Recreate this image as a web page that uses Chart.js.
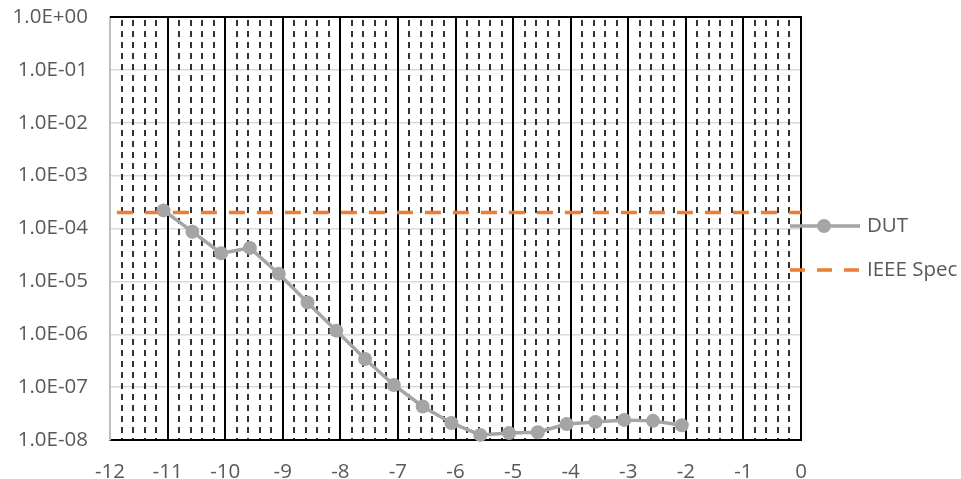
<!DOCTYPE html>
<html>
<head>
<meta charset="utf-8">
<script src="https://cdn.jsdelivr.net/npm/chart.js@4"></script>
<style>
  html, body { margin: 0; padding: 0; background: #ffffff; }
  #wrap { width: 961px; height: 479px; position: relative; }
</style>
</head>
<body>
<div id="wrap"><canvas id="c" width="961" height="479"></canvas></div>
<script>
// ---- data ----
const dutX = [-11.07, -10.57, -10.07, -9.57, -9.07, -8.57, -8.07, -7.57, -7.07, -6.57, -6.07, -5.57, -5.07, -4.57, -4.07, -3.57, -3.07, -2.57, -2.07];
const dutY = [2.2e-4, 8.7e-5, 3.4e-5, 4.3e-5, 1.4e-5, 4.0e-6, 1.17e-6, 3.4e-7, 1.1e-7, 4.3e-8, 2.1e-8, 1.25e-8, 1.35e-8, 1.4e-8, 2.0e-8, 2.2e-8, 2.4e-8, 2.3e-8, 1.9e-8];
const specX = [-11.88, 0];
const specY = [2.0e-4, 2.0e-4];
const seriesNames = ['DUT', 'IEEE Spec'];
const xTicks = [-12, -11, -10, -9, -8, -7, -6, -5, -4, -3, -2, -1, 0];
const yTicks = [1e-8, 1e-7, 1e-6, 1e-5, 1e-4, 1e-3, 1e-2, 1e-1, 1e0];

const FONT = '"Open Sans", Lato, sans-serif';
const TXT = '#595959';
const GRAY = '#a5a5a5';
const ORANGE = '#ed7d31';

function fmtExp(v) {
  const e = Math.round(Math.log10(v));
  const a = Math.abs(e);
  return '1.0E' + (e < 0 ? '-' : '+') + (a < 10 ? '0' + a : '' + a);
}

const gridPlugin = {
  id: 'customGrid',
  beforeDatasetsDraw(chart) {
    const { ctx, chartArea: ca, scales: { x } } = chart;
    ctx.save();
    // minor dashed lines every 0.2
    ctx.strokeStyle = '#000000';
    ctx.lineWidth = 1.6;
    ctx.setLineDash([6, 5]);
    ctx.lineDashOffset = 8;
    for (let i = 0; i < xTicks.length - 1; i++) {
      for (let k = 1; k < 5; k++) {
        const px = Math.round(x.getPixelForValue(xTicks[i] + k * 0.2));
        ctx.beginPath();
        ctx.moveTo(px, ca.top);
        ctx.lineTo(px, ca.bottom);
        ctx.stroke();
      }
    }
    // major solid lines
    ctx.setLineDash([]);
    ctx.lineWidth = 2;
    for (let i = 1; i < xTicks.length; i++) {
      const px = Math.round(x.getPixelForValue(xTicks[i]));
      ctx.beginPath();
      ctx.moveTo(px, ca.top);
      ctx.lineTo(px, ca.bottom);
      ctx.stroke();
    }
    // top border
    ctx.beginPath();
    ctx.moveTo(ca.left, Math.round(ca.top));
    ctx.lineTo(ca.right + 1, Math.round(ca.top));
    ctx.stroke();
    ctx.restore();
  },
  afterDraw(chart) {
    const { ctx } = chart;
    ctx.save();
    const x0 = 790, x1 = 860, tx = 867;
    const rows = [226, 270];
    // DUT
    ctx.strokeStyle = GRAY;
    ctx.lineWidth = 3.5;
    ctx.beginPath();
    ctx.moveTo(x0, rows[0]);
    ctx.lineTo(x1, rows[0]);
    ctx.stroke();
    ctx.fillStyle = GRAY;
    ctx.beginPath();
    ctx.arc((x0 + x1) / 2 - 1, rows[0], 7, 0, Math.PI * 2);
    ctx.fill();
    // IEEE
    ctx.strokeStyle = ORANGE;
    ctx.lineWidth = 3.5;
    ctx.setLineDash([15, 12]);
    ctx.beginPath();
    ctx.moveTo(x0, rows[1]);
    ctx.lineTo(x1, rows[1]);
    ctx.stroke();
    ctx.setLineDash([]);
    ctx.fillStyle = TXT;
    ctx.font = '20.5px ' + FONT;
    ctx.textBaseline = 'middle';
    ctx.textAlign = 'left';
    ctx.fillText(seriesNames[0], tx, rows[0]);
    ctx.fillText(seriesNames[1], tx, rows[1]);
    ctx.restore();
  }
};

new Chart(document.getElementById('c'), {
  type: 'line',
  data: {
    datasets: [
      {
        label: seriesNames[0],
        data: dutX.map((v, i) => ({ x: v, y: dutY[i] })),
        borderColor: GRAY,
        backgroundColor: GRAY,
        borderWidth: 3.5,
        pointRadius: 7,
        pointHoverRadius: 7,
        pointBackgroundColor: GRAY,
        pointBorderWidth: 0,
        tension: 0,
        clip: false
      },
      {
        label: seriesNames[1],
        data: specX.map((v, i) => ({ x: v, y: specY[i] })),
        borderColor: ORANGE,
        borderWidth: 3.5,
        borderDash: [16, 12],
        pointRadius: 0,
        tension: 0,
        clip: false
      }
    ]
  },
  options: {
    responsive: false,
    animation: false,
    events: [],
    layout: { padding: { top: 17, right: 160, left: 0, bottom: 0 } },
    plugins: { legend: { display: false }, tooltip: { enabled: false } },
    scales: {
      x: {
        type: 'linear',
        min: -12, max: 0,
        afterBuildTicks: (s) => { s.ticks = xTicks.map(v => ({ value: v })); },
        afterFit: (s) => { s.height = 39; s.paddingLeft = 0; s.paddingRight = 0; },
        grid: { display: false, drawTicks: false },
        border: { display: true, color: '#000000', width: 2 },
        ticks: { color: TXT, font: { family: FONT, size: 20.5 }, padding: 20, maxRotation: 0, autoSkip: false,
                 callback: (v) => '' + v }
      },
      y: {
        type: 'logarithmic',
        min: 1e-8, max: 1,
        afterBuildTicks: (s) => { s.ticks = yTicks.map(v => ({ value: v, major: true })); },
        afterFit: (s) => { s.width = 110; s.paddingTop = 0; s.paddingBottom = 0; },
        grid: { color: '#d9d9d9', lineWidth: 1.5, drawTicks: false },
        border: { display: true, color: '#bfbfbf', width: 2 },
        ticks: { color: TXT, font: { family: FONT, size: 20.5 }, padding: 22, autoSkip: false,
                 callback: (v) => fmtExp(v) }
      }
    }
  },
  plugins: [gridPlugin]
});
</script>
</body>
</html>
